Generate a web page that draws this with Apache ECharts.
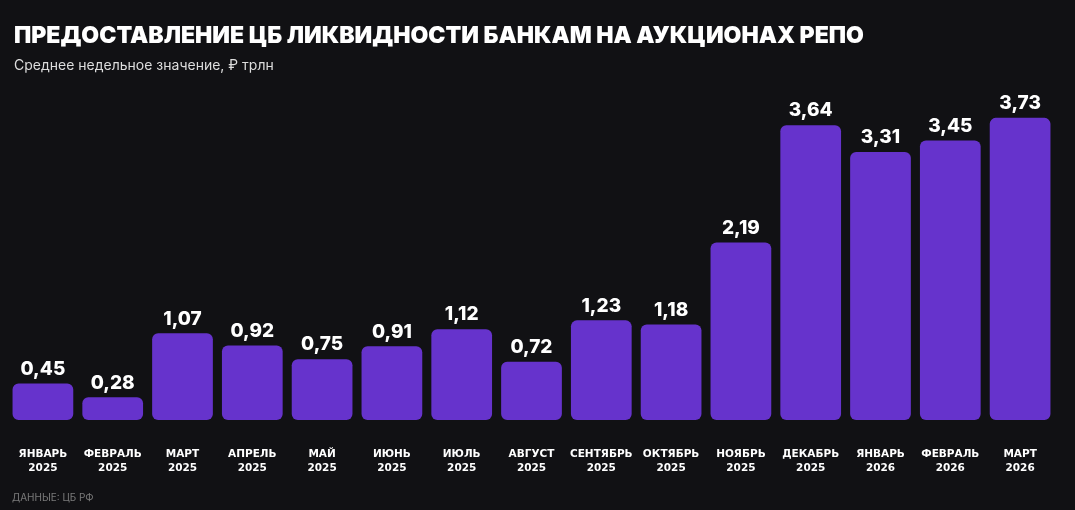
<!DOCTYPE html>
<html><head><meta charset="utf-8">
<script src="https://cdn.jsdelivr.net/npm/echarts@6/dist/echarts.min.js"></script>
<style>html,body{margin:0;padding:0;background:#111114;}#c{width:1075px;height:510px;}</style>
</head><body><div id="c"></div>
<script>
const months = ['ЯНВАРЬ','ФЕВРАЛЬ','МАРТ','АПРЕЛЬ','МАЙ','ИЮНЬ','ИЮЛЬ','АВГУСТ','СЕНТЯБРЬ','ОКТЯБРЬ','НОЯБРЬ','ДЕКАБРЬ','ЯНВАРЬ','ФЕВРАЛЬ','МАРТ'];
const years = ['2025','2025','2025','2025','2025','2025','2025','2025','2025','2025','2025','2025','2026','2026','2026'];
const values = [0.45,0.28,1.07,0.92,0.75,0.91,1.12,0.72,1.23,1.18,2.19,3.64,3.31,3.45,3.73];
const categories = months.map((m,i)=>m+'\n'+years[i]);

const chart = echarts.init(document.getElementById('c'));
chart.setOption({
  backgroundColor:'#111114',
  animation:false,
  title:[
    {text:'ПРЕДОСТАВЛЕНИЕ ЦБ ЛИКВИДНОСТИ БАНКАМ НА АУКЦИОНАХ РЕПО',left:9,top:20,
     textStyle:{color:'#ffffff',fontFamily:'Inter',fontWeight:900,fontSize:23}},
    {text:'Среднее недельное значение, ₽ трлн',left:9,top:54,
     textStyle:{color:'#dddddd',fontFamily:'Inter',fontWeight:400,fontSize:14}},
    {text:'ДАННЫЕ: ЦБ РФ',left:7,top:488,
     textStyle:{color:'#7a7a7a',fontFamily:'Inter',fontWeight:400,fontSize:10}}
  ],
  grid:{left:8,right:20,top:96,bottom:90},
  xAxis:{type:'category',data:categories,
    axisLine:{show:false},axisTick:{show:false},
    axisLabel:{color:'#ffffff',fontFamily:'DejaVu Sans',fontWeight:'bold',fontSize:10.5,lineHeight:14,margin:27,interval:0}},
  yAxis:{type:'value',min:0,max:4,show:false,splitLine:{show:false}},
  series:[{type:'bar',data:values,barCategoryGap:'13%',
    itemStyle:{color:'#6633cc',borderRadius:6},
    label:{show:true,position:'top',distance:5,color:'#ffffff',fontFamily:'Inter',fontWeight:800,fontSize:19,
      formatter:p=>p.value.toFixed(2).replace('.',',')}}]
});
</script></body></html>
